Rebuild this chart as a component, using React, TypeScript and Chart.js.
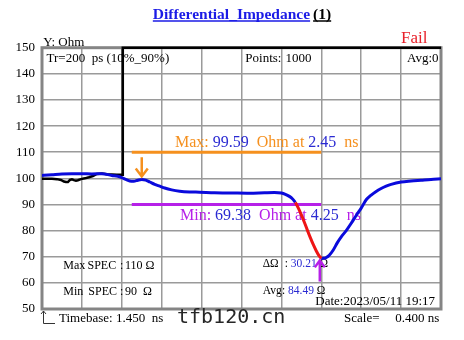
import { useEffect, useRef } from 'react';
import { Chart, registerables } from 'chart.js';

Chart.register(...registerables);

// Time axis (ns): timebase 1.450 ns, 0.400 ns per division
const xDivisions = [1.45, 1.85, 2.25, 2.65, 3.05, 3.45, 3.85, 4.25, 4.65, 5.05, 5.45];
const yTicks = [50, 60, 70, 80, 90, 100, 110, 120, 130, 140, 150];

// Reference trace (black) – steps off-scale after the launch
const refTime = [1.45, 1.5, 1.55, 1.6, 1.64, 1.67, 1.69, 1.71, 1.73, 1.75, 1.77, 1.79, 1.81, 1.84, 1.88, 1.92, 1.96, 2.0, 2.05, 2.1, 2.15, 2.2, 2.255, 2.26, 5.45];
const refOhm = [99.8, 99.8, 99.8, 99.7, 99.4, 98.8, 98.6, 98.6, 99.4, 99.6, 99.3, 99.1, 99.3, 99.7, 100.0, 100.4, 100.9, 101.7, 101.9, 101.6, 101.5, 101.4, 101.4, 150, 150];

// Measured impedance (blue), before the failing region
const tdrTime = [1.45, 1.55, 1.65, 1.75, 1.85, 1.95, 2.05, 2.15, 2.21, 2.25, 2.29, 2.33, 2.37, 2.41, 2.45, 2.49, 2.53, 2.58, 2.63, 2.68, 2.75, 2.83, 2.93, 3.03, 3.18, 3.35, 3.53, 3.68, 3.78, 3.85, 3.89, 3.93, 3.96, 3.99];
const tdrOhm = [101.1, 101.4, 101.7, 101.8, 101.8, 101.7, 101.8, 101.1, 100.8, 100.3, 99.6, 99.0, 98.9, 99.3, 99.59, 99.3, 98.6, 97.7, 97.0, 96.3, 95.6, 95.1, 94.8, 94.7, 94.5, 94.4, 94.3, 94.5, 94.6, 94.4, 93.9, 93.1, 92.2, 90.8];

// Segment below the min spec (red)
const failTime = [3.99, 4.02, 4.05, 4.08, 4.11, 4.14, 4.17, 4.2, 4.23, 4.25];
const failOhm = [90.8, 88.6, 86.0, 83.2, 80.2, 77.3, 74.6, 72.2, 70.2, 69.38];

// Recovery after the minimum (blue)
const recTime = [4.25, 4.28, 4.3, 4.33, 4.37, 4.41, 4.45, 4.5, 4.55, 4.6, 4.65, 4.7, 4.75, 4.8, 4.85, 4.9, 4.95, 5.05, 5.15, 5.25, 5.35, 5.45];
const recOhm = [69.38, 69.4, 69.7, 70.6, 72.6, 75.3, 77.6, 80.0, 82.8, 85.8, 88.6, 91.8, 93.6, 95.0, 96.1, 97.0, 97.7, 98.6, 99.0, 99.3, 99.6, 99.8];

const maxSpec = 110;
const minSpec = 90;
const specSpan = [2.35, 4.25];
const maxAt = { t: 2.45, ohm: 99.59 };
const minAt = { t: 4.25, ohm: 69.38 };
const deltaOhm = 30.21;
const avgOhm = 84.49;

const SERIF = '"Liberation Serif", "Times New Roman", serif';
const ORANGE = '#f5901e';
const PURPLE = '#b620e8';
const NUMBLUE = '#2a2ad2';
const TRACE = '#0a0adc';
const RED = '#ee1515';

const pts = (t: number[], v: number[]) => t.map((x, i) => ({ x, y: v[i] }));

type Part = [string, string];
function run(ctx: CanvasRenderingContext2D, x: number, y: number, font: string, parts: Part[]) {
  ctx.font = font;
  let cx = x;
  for (const [s, c] of parts) {
    ctx.fillStyle = c;
    ctx.fillText(s, cx, y);
    cx += ctx.measureText(s).width;
  }
}

const tdrPlugin = {
  id: 'tdrOverlay',
  beforeDatasetsDraw(chart: any) {
    const { ctx, chartArea: a } = chart;
    ctx.save();
    // frame
    ctx.strokeStyle = '#858585';
    ctx.lineWidth = 3;
    ctx.strokeRect(a.left, a.top, a.right - a.left, a.bottom - a.top);

    ctx.textBaseline = 'alphabetic';
    ctx.textAlign = 'left';

    // title
    ctx.font = `bold 15.5px ${SERIF}`;
    const t1 = 'Differential_Impedance';
    const t2 = '(1)';
    const w1 = ctx.measureText(t1).width;
    const w2 = ctx.measureText(t2).width;
    const tx = 242 - (w1 + 3 + w2) / 2;
    ctx.fillStyle = '#1b1be6';
    ctx.fillText(t1, tx, 18.5);
    ctx.fillStyle = '#000';
    ctx.fillText(t2, tx + w1 + 3, 18.5);
    ctx.lineWidth = 1.5;
    ctx.strokeStyle = '#1b1be6';
    ctx.beginPath(); ctx.moveTo(tx, 21); ctx.lineTo(tx + w1, 21); ctx.stroke();
    ctx.strokeStyle = '#000';
    ctx.beginPath(); ctx.moveTo(tx + w1 + 3, 21); ctx.lineTo(tx + w1 + 3 + w2, 21); ctx.stroke();

    run(ctx, 43.3, 45.7, `13px ${SERIF}`, [['Y: Ohm', '#000']]);
    run(ctx, 401, 43.3, `17px ${SERIF}`, [['Fail', '#e8202a']]);

    // header row
    const hf = `13px ${SERIF}`;
    run(ctx, 46.5, 62, hf, [['Tr=200  ps (10%_90%)', '#000']]);
    run(ctx, 245.3, 62, hf, [['Points:', '#000']]);
    run(ctx, 285.5, 62, hf, [['1000', '#000']]);
    run(ctx, 407, 62, hf, [['Avg:0', '#000']]);

    // marker readouts
    const mf = `16px ${SERIF}`;
    run(ctx, 175, 147, mf, [['Max: ', ORANGE], [maxAt.ohm.toFixed(2), NUMBLUE], ['  Ohm at ', ORANGE], [maxAt.t.toFixed(2), NUMBLUE], ['  ns', ORANGE]]);
    run(ctx, 180, 220, mf, [['Min: ', PURPLE], [minAt.ohm.toFixed(2), NUMBLUE], ['  Ohm at ', PURPLE], [minAt.t.toFixed(2), NUMBLUE], ['  ns', PURPLE]]);

    // spec / statistics
    const sf = `12px ${SERIF}`;
    run(ctx, 63.3, 268.5, sf, [['Max', '#000']]);
    run(ctx, 87.5, 268.5, sf, [['SPEC', '#000']]);
    run(ctx, 120, 268.5, sf, [[':', '#000']]);
    run(ctx, 125, 268.5, sf, [[`${maxSpec} Ω`, '#000']]);
    run(ctx, 63.3, 294.5, sf, [['Min', '#000']]);
    run(ctx, 88.3, 294.5, sf, [['SPEC', '#000']]);
    run(ctx, 120, 294.5, sf, [[':', '#000']]);
    run(ctx, 125, 294.5, sf, [[`${minSpec}  Ω`, '#000']]);

    const df = `11.5px ${SERIF}`;
    run(ctx, 262.7, 267, df, [['ΔΩ', '#000']]);
    run(ctx, 284.7, 267, df, [[': ', '#000'], [deltaOhm.toFixed(2), NUMBLUE], [' Ω', '#000']]);
    run(ctx, 262.7, 293.5, df, [['Avg', '#000']]);
    run(ctx, 282, 293.5, df, [[': ', '#000'], [avgOhm.toFixed(2), NUMBLUE], [' Ω', '#000']]);
    run(ctx, 315.3, 305, `13px ${SERIF}`, [['Date:2023/05/11 19:17', '#000']]);

    // bottom line
    run(ctx, 59, 321.7, `13px ${SERIF}`, [['Timebase: 1.450  ns', '#000']]);
    run(ctx, 344, 321.7, `13px ${SERIF}`, [['Scale=', '#000']]);
    run(ctx, 395.3, 321.7, `13px ${SERIF}`, [['0.400 ns', '#000']]);
    run(ctx, 177, 323.3, '20px "DejaVu Sans Mono", monospace', [['tfb120.cn', '#262626']]);

    // corner glyph
    ctx.strokeStyle = '#333';
    ctx.lineWidth = 1;
    ctx.beginPath();
    ctx.moveTo(43.5, 311); ctx.lineTo(43.5, 323.5); ctx.lineTo(55, 323.5);
    ctx.moveTo(41, 314); ctx.lineTo(43.5, 311); ctx.lineTo(46, 314);
    ctx.stroke();
    ctx.restore();
  },
  afterDatasetsDraw(chart: any) {
    const { ctx, scales: { x, y } } = chart;
    ctx.save();
    ctx.lineWidth = 2.5;
    ctx.lineCap = 'butt';
    // max marker arrow
    const ax = x.getPixelForValue(maxAt.t);
    const aTip = y.getPixelForValue(maxAt.ohm) - 3;
    const aTail = y.getPixelForValue(maxSpec) + 5;
    ctx.strokeStyle = ORANGE;
    ctx.beginPath();
    ctx.moveTo(ax, aTail); ctx.lineTo(ax, aTip);
    ctx.moveTo(ax - 6, aTip - 8); ctx.lineTo(ax, aTip); ctx.lineTo(ax + 6, aTip - 8);
    ctx.stroke();
    // min marker arrow
    const bx = x.getPixelForValue(minAt.t) - 1.5;
    const bTip = y.getPixelForValue(minAt.ohm) + 2;
    const bTail = y.getPixelForValue(60.5);
    ctx.strokeStyle = PURPLE;
    ctx.beginPath();
    ctx.moveTo(bx, bTail); ctx.lineTo(bx, bTip);
    ctx.moveTo(bx - 5, bTip + 7); ctx.lineTo(bx, bTip); ctx.lineTo(bx + 5, bTip + 7);
    ctx.stroke();
    ctx.restore();
  },
};

export default function App() {
  const ref = useRef<HTMLCanvasElement>(null);
  useEffect(() => {
    if (!ref.current) return;
    const grid = { color: '#9a9a9a', lineWidth: 1.5, drawTicks: false };
    const chart = new Chart(ref.current, {
      type: 'line',
      data: {
        datasets: [
          { data: pts([maxAt.t, minAt.t], [maxAt.ohm, minAt.ohm]), showLine: false, pointRadius: 0, borderColor: 'transparent' },
          { data: pts(failTime, failOhm), borderColor: RED, borderWidth: 3, pointRadius: 0, cubicInterpolationMode: 'monotone' },
          { data: pts(tdrTime, tdrOhm), borderColor: TRACE, borderWidth: 3, pointRadius: 0, cubicInterpolationMode: 'monotone' },
          { data: pts(recTime, recOhm), borderColor: TRACE, borderWidth: 3, pointRadius: 0, cubicInterpolationMode: 'monotone' },
          { data: pts(specSpan, [maxSpec, maxSpec]), borderColor: ORANGE, borderWidth: 3, pointRadius: 0 },
          { data: pts(specSpan, [minSpec, minSpec]), borderColor: PURPLE, borderWidth: 3, pointRadius: 0 },
          { data: pts(refTime, refOhm), borderColor: '#000', borderWidth: 2.5, pointRadius: 0, tension: 0, clip: 4 },
        ] as any,
      },
      options: {
        animation: false,
        responsive: false,
        devicePixelRatio: 1,
        layout: { padding: { left: 0, top: 47.7, right: 23, bottom: 31 } },
        plugins: { legend: { display: false }, tooltip: { enabled: false } },
        scales: {
          x: {
            type: 'linear',
            min: xDivisions[0],
            max: xDivisions[xDivisions.length - 1],
            afterBuildTicks: (s: any) => { s.ticks = xDivisions.map((v) => ({ value: v })); },
            afterFit: (s: any) => { s.height = 0; },
            ticks: { display: false },
            grid,
            border: { display: false },
          },
          y: {
            min: yTicks[0],
            max: yTicks[yTicks.length - 1],
            afterBuildTicks: (s: any) => { s.ticks = yTicks.map((v) => ({ value: v })); },
            afterFit: (s: any) => { s.width = 42; },
            ticks: { color: '#000', padding: 7, font: { family: SERIF, size: 13 } },
            grid,
            border: { display: false },
          },
        },
      } as any,
      plugins: [tdrPlugin],
    });
    return () => chart.destroy();
  }, []);
  return (
    <div style={{ position: 'absolute', left: 0, top: 0, width: 464, height: 340, background: '#fff' }}>
      <canvas ref={ref} width={464} height={340} />
    </div>
  );
}
